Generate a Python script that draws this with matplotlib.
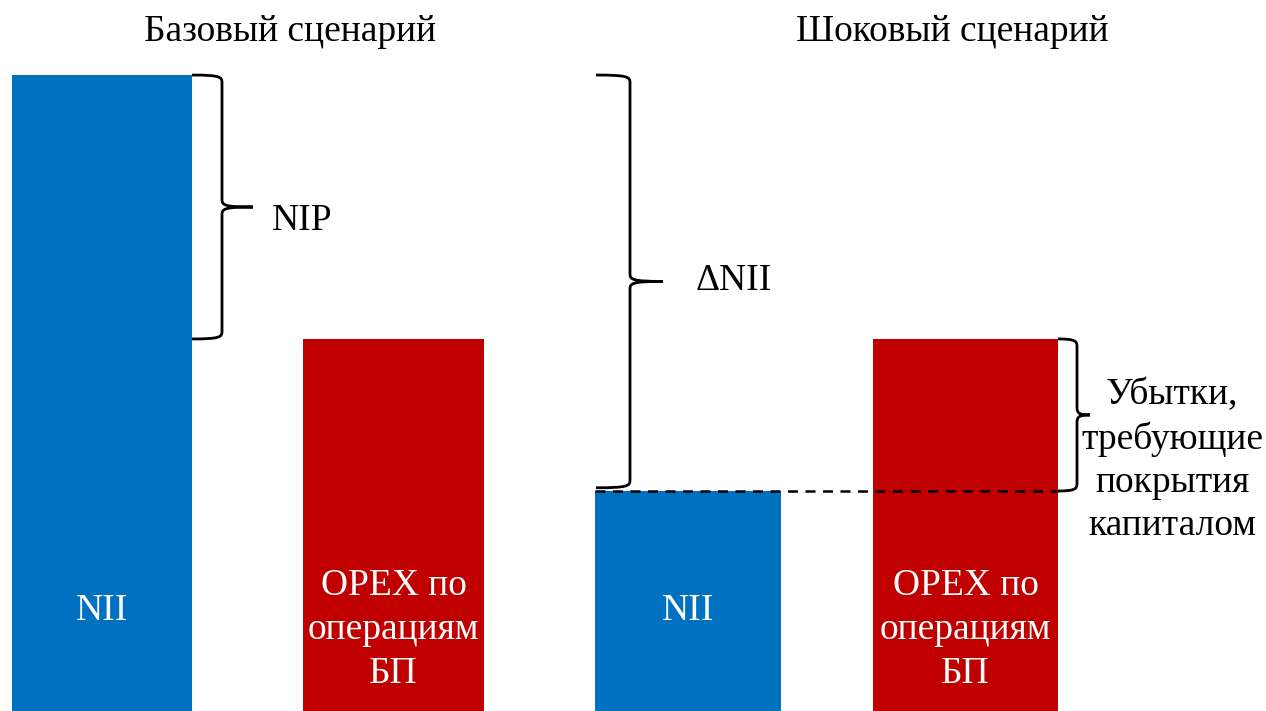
import matplotlib.pyplot as plt
from matplotlib.path import Path
from matplotlib.patches import PathPatch

plt.rcParams['font.family'] = ['Liberation Serif', 'DejaVu Serif']

# data (arbitrary units, bottom of figure = 0)
scenarios = ["Базовый сценарий", "Шоковый сценарий"]
nii_vals = [100.0, 34.6]
opex_vals = [58.5, 58.5]
nii_pos = [102, 688]
opex_pos = [393.5, 965.5]
nii_width = [180, 186]
opex_width = [181, 185]

blue = "#0070C0"
red = "#C00000"
fs = 27

fig = plt.figure(figsize=(12.66, 7.11), dpi=100)
ax = fig.add_axes([0, 0, 1, 1])
ymax = 111.8
ax.set_xlim(0, 1266)
ax.set_ylim(0, ymax)
ax.axis("off")

ax.bar(nii_pos, nii_vals, width=nii_width, color=blue)
ax.bar(opex_pos, opex_vals, width=opex_width, color=red)

for i in range(2):
    ax.text(nii_pos[i], 15.8, "NII", color="white", fontsize=fs,
            ha="center", va="center")
    ax.text(opex_pos[i], 12.8, "OPEX по\nоперациям\nБП", color="white",
            fontsize=fs, ha="center", va="center", linespacing=1.35)

ax.text(290, 106.8, scenarios[0], fontsize=fs, ha="center", va="center")
ax.text(952, 106.8, scenarios[1], fontsize=fs, ha="center", va="center")


def brace(x0, x1, xtip, ytop, ybot, lw=2):
    ymid = (ytop + ybot) / 2
    r = 1.2
    verts = [
        (x0, ytop), (x1 - 2, ytop), (x1, ytop - 0.3), (x1, ytop - r),
        (x1, ymid + r),
        (x1, ymid + 0.3), (x1 + 2, ymid), (xtip, ymid),
        (x1 + 2, ymid), (x1, ymid - 0.3), (x1, ymid - r),
        (x1, ybot + r),
        (x1, ybot + 0.3), (x1 - 2, ybot), (x0, ybot),
    ]
    codes = [Path.MOVETO, Path.CURVE4, Path.CURVE4, Path.CURVE4,
             Path.LINETO,
             Path.CURVE4, Path.CURVE4, Path.CURVE4,
             Path.CURVE4, Path.CURVE4, Path.CURVE4,
             Path.LINETO,
             Path.CURVE4, Path.CURVE4, Path.CURVE4]
    ax.add_patch(PathPatch(Path(verts, codes), fill=False, lw=lw,
                           edgecolor="black", capstyle="butt"))
    return ymid


# NIP brace: base NII top to OPEX top
m = brace(192, 222, 253, nii_vals[0], opex_vals[0])
ax.text(272, m - 2.1, "NIP", fontsize=fs, ha="left", va="center")

# delta NII brace: base NII top to shock NII top
m = brace(596, 630, 663, nii_vals[0], nii_vals[1] + 0.5)
ax.text(696, m + 0.1, "\u0394NII", fontsize=fs, ha="left", va="center")

# losses brace: OPEX top to shock NII top
m = brace(1058, 1077, 1090, opex_vals[1], nii_vals[1])
ax.text(1172, 39.4, "Убытки,\nтребующие\nпокрытия\nкапиталом",
        fontsize=fs, ha="center", va="center", linespacing=1.33)

# dashed level of shocked NII
ax.plot([nii_pos[1] - nii_width[1] / 2, opex_pos[1] + opex_width[1] / 2],
        [nii_vals[1], nii_vals[1]], color="black", lw=1.8, ls=(0, (4, 3)))

fig.savefig("out.png", dpi=100, facecolor="white")
